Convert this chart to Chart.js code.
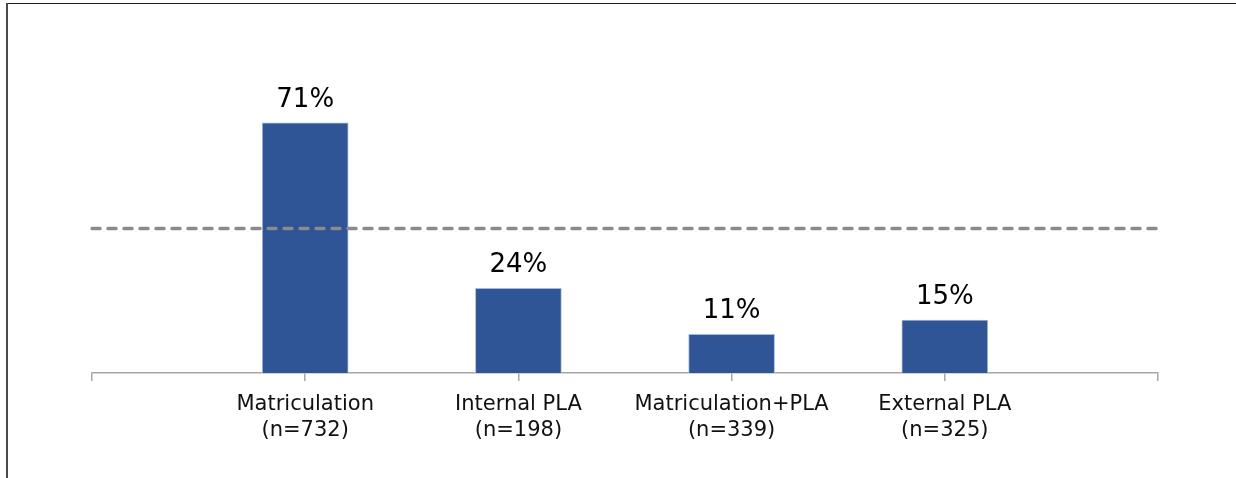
<!DOCTYPE html>
<html>
<head>
<meta charset="utf-8">
<script src="https://cdn.jsdelivr.net/npm/chart.js@4.4.0/dist/chart.umd.min.js"></script>
<style>
  html, body { margin: 0; padding: 0; background: #ffffff; }
  #wrap { position: relative; width: 1236px; height: 478px; overflow: hidden; }
  #frameTop { position: absolute; left: 6px; top: 3px; width: 1230px; height: 0; border-top: 1.5px solid #1f1f1f; }
  #frameLeft { position: absolute; left: 6px; top: 3px; width: 0; height: 475px; border-left: 2px solid #4a4a4a; }
  canvas { position: absolute; left: 0; top: 0; }
</style>
</head>
<body>
<div id="wrap">
  <canvas id="c" width="1236" height="478"></canvas>
  <div id="frameTop"></div>
  <div id="frameLeft"></div>
</div>
<script>
// Categories (empty slots at both ends so the reference line spans the full axis)
const categories = ['', 'Matriculation', 'Internal PLA', 'Matriculation+PLA', 'External PLA', ''];
const sampleSizes = [null, 732, 198, 339, 325, null];
const barValues = [null, 71, 24, 11, 15, null];
const referenceValue = 41;
const referenceLine = [referenceValue, referenceValue, referenceValue, referenceValue, referenceValue, referenceValue];

const tickLabels = categories.map((c, i) => c ? [c, '(n=' + sampleSizes[i] + ')'] : '');

const valueLabelPlugin = {
  id: 'valueLabels',
  afterDatasetsDraw(chart) {
    const ctx = chart.ctx;
    const meta = chart.getDatasetMeta(1);
    ctx.save();
    ctx.font = '26px "DejaVu Sans"';
    ctx.fillStyle = '#000000';
    ctx.textAlign = 'center';
    ctx.textBaseline = 'alphabetic';
    meta.data.forEach((bar, i) => {
      const v = barValues[i];
      if (v === null || v === undefined) return;
      ctx.fillText(v + '%', bar.x, bar.y - 16);
    });
    ctx.restore();
  }
};

new Chart(document.getElementById('c'), {
  data: {
    labels: tickLabels,
    datasets: [
      {
        type: 'line',
        label: 'Reference',
        data: referenceLine,
        borderColor: '#8a8a8a',
        borderWidth: 3.5,
        borderDash: [8, 8],
        borderCapStyle: 'round',
        pointRadius: 0,
        fill: false,
        order: 0
      },
      {
        type: 'bar',
        label: 'Share',
        data: barValues,
        backgroundColor: '#2F5597',
        borderColor: '#A9B9D8',
        borderWidth: 1,
        barThickness: 86,
        order: 1
      }
    ]
  },
  plugins: [valueLabelPlugin],
  options: {
    responsive: false,
    animation: false,
    events: [],
    layout: { padding: { left: 92, right: 78, top: 91, bottom: 0 } },
    plugins: { legend: { display: false }, tooltip: { enabled: false } },
    scales: {
      x: {
        offset: false,
        border: { display: true, color: '#a6a6a6', width: 1.5 },
        grid: { display: true, offset: false, drawOnChartArea: false, drawTicks: true, tickLength: 8, color: '#a6a6a6', lineWidth: 1.5 },
        ticks: {
          font: { family: '"DejaVu Sans"', size: 21, lineHeight: 1.25 },
          color: '#111111',
          padding: 10,
          maxRotation: 0,
          autoSkip: false
        },
        afterFit(scale) { scale.height = 105; }
      },
      y: {
        display: false,
        min: 0,
        max: 80
      }
    }
  }
});
</script>
</body>
</html>
